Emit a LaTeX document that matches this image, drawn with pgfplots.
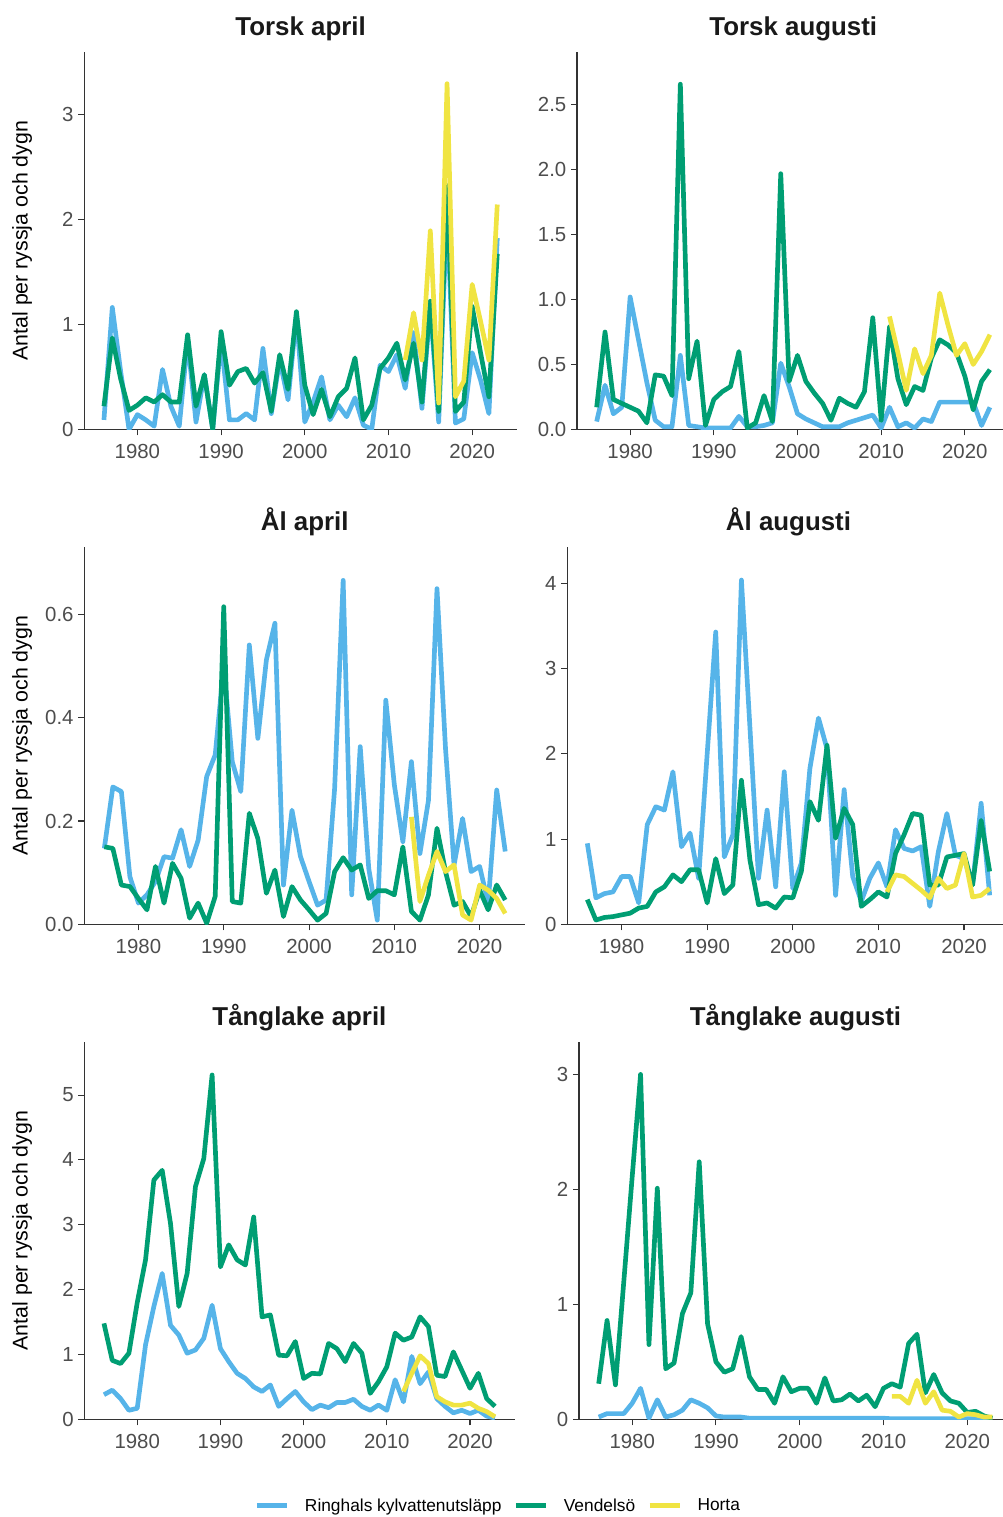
\documentclass[border=0pt]{standalone}
\usepackage{fontspec}
\setmainfont{Liberation Sans}
\usepackage{pgfplots}
\usepackage{pgfplotstable}
\pgfplotsset{compat=1.18}
\definecolor{cR}{HTML}{56B4E9}
\definecolor{cV}{HTML}{009E73}
\definecolor{cH}{HTML}{F0E442}
\definecolor{axc}{HTML}{333333}
\definecolor{tickc}{HTML}{4D4D4D}

\pgfplotstableread{
year R V H
1976 0.09 0.22 nan
1977 1.16 0.87 nan
1978 0.55 0.48 nan
1979 0.00 0.18 nan
1980 0.14 0.23 nan
1981 0.09 0.30 nan
1982 0.03 0.26 nan
1983 0.57 0.33 nan
1984 0.22 0.26 nan
1985 0.03 0.26 nan
1986 0.85 0.90 nan
1987 0.07 0.22 nan
1988 0.52 0.52 nan
1989 0.00 0.00 nan
1990 0.85 0.93 nan
1991 0.09 0.42 nan
1992 0.09 0.55 nan
1993 0.15 0.58 nan
1994 0.09 0.44 nan
1995 0.77 0.54 nan
1996 0.15 0.17 nan
1997 0.66 0.71 nan
1998 0.28 0.38 nan
1999 1.08 1.12 nan
2000 0.07 0.42 nan
2001 0.26 0.14 nan
2002 0.50 0.38 nan
2003 0.09 0.12 nan
2004 0.23 0.31 nan
2005 0.12 0.39 nan
2006 0.30 0.68 nan
2007 0.04 0.09 nan
2008 0.00 0.23 nan
2009 0.61 0.58 nan
2010 0.55 0.68 nan
2011 0.71 0.82 nan
2012 0.39 0.47 0.66
2013 0.92 0.82 1.11
2014 0.20 0.26 0.66
2015 1.17 1.22 1.89
2016 0.07 0.17 0.25
2017 2.10 2.32 3.29
2018 0.06 0.17 0.31
2019 0.10 0.26 0.46
2020 0.73 1.17 1.38
2021 0.47 0.73 1.03
2022 0.15 0.31 0.66
2023 1.82 1.67 2.14
}\TorskApril

\pgfplotstableread{
year R V H
1976 0.06 0.17 nan
1977 0.34 0.75 nan
1978 0.12 0.23 nan
1979 0.17 0.20 nan
1980 1.02 0.17 nan
1981 0.69 0.14 nan
1982 0.36 0.05 nan
1983 0.07 0.42 nan
1984 0.02 0.41 nan
1985 0.02 0.26 nan
1986 0.57 2.66 nan
1987 0.03 0.39 nan
1988 0.02 0.68 nan
1989 0.01 0.03 nan
1990 0.01 0.23 nan
1991 0.01 0.29 nan
1992 0.01 0.33 nan
1993 0.10 0.60 nan
1994 0.02 0.01 nan
1995 0.02 0.05 nan
1996 0.03 0.26 nan
1997 0.05 0.06 nan
1998 0.51 1.97 nan
1999 0.33 0.37 nan
2000 0.12 0.57 nan
2001 0.08 0.37 nan
2002 0.05 0.28 nan
2003 0.02 0.20 nan
2004 0.02 0.07 nan
2005 0.02 0.24 nan
2006 0.05 0.20 nan
2007 0.07 0.17 nan
2008 0.09 0.29 nan
2009 0.11 0.86 nan
2010 0.01 0.07 nan
2011 0.17 0.79 0.87
2012 0.02 0.39 0.59
2013 0.05 0.19 0.30
2014 0.01 0.33 0.62
2015 0.08 0.30 0.43
2016 0.06 0.55 0.57
2017 0.21 0.69 1.05
2018 0.21 0.65 0.80
2019 0.21 0.59 0.57
2020 0.21 0.41 0.66
2021 0.21 0.15 0.50
2022 0.03 0.37 0.60
2023 0.17 0.46 0.73
}\TorskAugusti

\pgfplotstableread{
year R V H
1976 0.147 0.150 nan
1977 0.266 0.147 nan
1978 0.257 0.076 nan
1979 0.092 0.073 nan
1980 0.041 0.050 nan
1981 0.057 0.028 nan
1982 0.083 0.112 nan
1983 0.131 0.041 nan
1984 0.128 0.118 nan
1985 0.183 0.089 nan
1986 0.112 0.012 nan
1987 0.163 0.041 nan
1988 0.286 0.002 nan
1989 0.328 0.054 nan
1990 0.500 0.615 nan
1991 0.315 0.044 nan
1992 0.257 0.041 nan
1993 0.541 0.215 nan
1994 0.360 0.166 nan
1995 0.512 0.060 nan
1996 0.583 0.105 nan
1997 0.076 0.015 nan
1998 0.221 0.073 nan
1999 0.131 0.047 nan
2000 0.083 0.028 nan
2001 0.037 0.008 nan
2002 0.047 0.021 nan
2003 0.263 0.102 nan
2004 0.666 0.129 nan
2005 0.057 0.105 nan
2006 0.344 0.115 nan
2007 0.108 0.050 nan
2008 0.008 0.065 nan
2009 0.434 0.065 nan
2010 0.270 0.057 nan
2011 0.160 0.150 nan
2012 0.315 0.025 0.208
2013 0.137 0.008 0.044
2014 0.240 0.057 0.095
2015 0.650 0.186 0.141
2016 0.340 0.102 0.102
2017 0.115 0.037 0.115
2018 0.205 0.044 0.018
2019 0.102 0.015 0.008
2020 0.112 0.066 0.076
2021 0.041 0.028 0.066
2022 0.260 0.076 0.050
2023 0.141 0.047 0.021
}\AlApril

\pgfplotstableread{
year R V H
1976 0.95 0.29 nan
1977 0.31 0.05 nan
1978 0.36 0.08 nan
1979 0.38 0.09 nan
1980 0.56 0.11 nan
1981 0.56 0.13 nan
1982 0.25 0.19 nan
1983 1.17 0.21 nan
1984 1.38 0.38 nan
1985 1.34 0.44 nan
1986 1.79 0.58 nan
1987 0.91 0.50 nan
1988 1.07 0.64 nan
1989 0.54 0.64 nan
1990 2.00 0.25 nan
1991 3.43 0.77 nan
1992 0.79 0.36 nan
1993 1.05 0.46 nan
1994 4.04 1.69 nan
1995 2.30 0.75 nan
1996 0.54 0.23 nan
1997 1.34 0.25 nan
1998 0.44 0.19 nan
1999 1.79 0.32 nan
2000 0.42 0.31 nan
2001 0.72 0.62 nan
2002 1.83 1.44 nan
2003 2.42 1.22 nan
2004 2.06 2.10 nan
2005 0.34 1.01 nan
2006 1.58 1.36 nan
2007 0.56 1.17 nan
2008 0.27 0.21 nan
2009 0.54 0.29 nan
2010 0.72 0.38 nan
2011 0.44 0.32 0.38
2012 1.11 0.83 0.58
2013 0.89 1.05 0.56
2014 0.86 1.30 0.48
2015 0.91 1.28 0.40
2016 0.21 0.46 0.31
2017 0.85 0.46 0.54
2018 1.30 0.79 0.42
2019 0.81 0.81 0.46
2020 0.77 0.83 0.83
2021 0.46 0.46 0.32
2022 1.42 1.22 0.34
2023 0.34 0.62 0.42
}\AlAugusti

\pgfplotstableread{
year R V H
1976 0.38 1.48 nan
1977 0.45 0.91 nan
1978 0.32 0.86 nan
1979 0.14 1.02 nan
1980 0.17 1.80 nan
1981 1.15 2.46 nan
1982 1.74 3.69 nan
1983 2.25 3.84 nan
1984 1.45 3.02 nan
1985 1.30 1.74 nan
1986 1.02 2.25 nan
1987 1.07 3.59 nan
1988 1.25 4.02 nan
1989 1.76 5.31 nan
1990 1.09 2.35 nan
1991 0.89 2.69 nan
1992 0.71 2.46 nan
1993 0.63 2.38 nan
1994 0.50 3.12 nan
1995 0.43 1.58 nan
1996 0.53 1.61 nan
1997 0.20 0.99 nan
1998 0.32 0.98 nan
1999 0.43 1.20 nan
2000 0.27 0.63 nan
2001 0.15 0.71 nan
2002 0.22 0.70 nan
2003 0.18 1.17 nan
2004 0.26 1.09 nan
2005 0.26 0.89 nan
2006 0.31 1.17 nan
2007 0.20 1.02 nan
2008 0.14 0.40 nan
2009 0.22 0.58 nan
2010 0.14 0.81 nan
2011 0.61 1.33 nan
2012 0.27 1.22 0.43
2013 0.97 1.27 0.71
2014 0.55 1.58 0.98
2015 0.73 1.43 0.86
2016 0.32 0.68 0.35
2017 0.20 0.66 0.27
2018 0.10 1.04 0.22
2019 0.14 0.76 0.22
2020 0.09 0.48 0.25
2021 0.14 0.71 0.17
2022 0.05 0.32 0.12
2023 0.02 0.20 0.04
}\TangApril

\pgfplotstableread{
year R V H
1976 0.02 0.31 nan
1977 0.05 0.86 nan
1978 0.05 0.30 nan
1979 0.05 1.20 nan
1980 0.14 2.11 nan
1981 0.27 3.00 nan
1982 0.01 0.65 nan
1983 0.17 2.01 nan
1984 0.02 0.44 nan
1985 0.04 0.49 nan
1986 0.08 0.92 nan
1987 0.17 1.10 nan
1988 0.14 2.24 nan
1989 0.10 0.83 nan
1990 0.03 0.50 nan
1991 0.02 0.41 nan
1992 0.02 0.44 nan
1993 0.02 0.72 nan
1994 0.01 0.37 nan
1995 0.01 0.26 nan
1996 0.01 0.26 nan
1997 0.01 0.14 nan
1998 0.01 0.37 nan
1999 0.01 0.24 nan
2000 0.01 0.27 nan
2001 0.01 0.27 nan
2002 0.01 0.14 nan
2003 0.01 0.36 nan
2004 0.01 0.16 nan
2005 0.01 0.17 nan
2006 0.01 0.22 nan
2007 0.01 0.16 nan
2008 0.01 0.21 nan
2009 0.01 0.11 nan
2010 0.01 0.27 nan
2011 0.005 0.31 0.20
2012 0.005 0.28 0.20
2013 0.005 0.66 0.14
2014 0.005 0.74 0.34
2015 0.005 0.23 0.14
2016 0.005 0.39 0.24
2017 0.005 0.23 0.08
2018 0.005 0.16 0.07
2019 0.005 0.14 0.02
2020 0.005 0.06 0.05
2021 0.005 0.07 0.04
2022 0.005 0.03 0.02
2023 0.005 0.01 0.02
}\TangAugusti

\pgfplotsset{
  panel/.style={
    scale only axis, height=283.1pt,
    xmin=1973.65, xmax=2025.35, ymin=0,
    axis x line*=bottom, axis y line*=left,
    axis line style={axc, line width=0.8pt},
    tick align=outside, major tick length=4.5pt,
    tick style={axc, line width=0.8pt},
    xtick={1980,1990,2000,2010,2020},
    x tick label style={/pgf/number format/1000 sep={}, yshift=-3pt},
    ticklabel style={font=\fontsize{15.3}{18}\selectfont, text=tickc},
    /pgf/number format/assume math mode=true,
    title style={font=\fontsize{19.4}{23}\selectfont\bfseries, at={(axis description cs:0.5,1)}, anchor=base, yshift=6pt, text=black!90},
    every axis plot/.append style={line width=3.5pt, line join=round, mark=none},
    anchor=south west,
  },
  onedec/.style={yticklabel style={/pgf/number format/.cd, fixed, fixed zerofill, precision=1}},
}

\newcommand{\threeplots}[1]{%
  \addplot[cR] table[x=year,y=R]{#1};
  \addplot[cV] table[x=year,y=V]{#1};
  \addplot[cH] table[x=year,y=H]{#1};
}

\begin{document}
\begin{tikzpicture}
\path[use as bounding box] (0,0) rectangle (752.25pt,-1137.75pt);

% Torsk april
\begin{axis}[panel, at={(63.2pt,-322.0pt)}, width=324.5pt, ymax=3.593,
  ytick={0,1,2,3}, title={Torsk april}]
\threeplots{\TorskApril}
\end{axis}

% Torsk augusti
\begin{axis}[panel, onedec, at={(432.75pt,-322.0pt)}, width=324.45pt, ymax=2.909,
  ytick={0,0.5,1,1.5,2,2.5}, title={Torsk augusti}]
\threeplots{\TorskAugusti}
\end{axis}

% Al april
\begin{axis}[panel, onedec, at={(63.2pt,-693.2pt)}, width=330.75pt, ymax=0.731,
  ytick={0,0.2,0.4,0.6}, title={Ål april}]
\threeplots{\AlApril}
\end{axis}

% Al augusti
\begin{axis}[panel, at={(425.4pt,-693.2pt)}, width=331.95pt, ymax=4.43,
  ytick={0,1,2,3,4}, title={Ål augusti}]
\threeplots{\AlAugusti}
\end{axis}

% Tanglake april
\begin{axis}[panel, at={(63.3pt,-1064.5pt)}, width=322.6pt, ymax=5.82,
  ytick={0,1,2,3,4,5}, title={Tånglake april},
  legend style={at={(axis description cs:0.97,-0.229)}, anchor=center,
    legend columns=3, draw=none, fill=none,
    font=\fontsize{13}{15}\selectfont,
    /tikz/every even column/.append style={column sep=2.5pt},
    nodes={inner xsep=6.5pt}},
  legend image code/.code={\draw[#1, line width=3.5pt] (0pt,0pt) -- (22.5pt,0pt); \path (27.75pt,0pt);}]
\threeplots{\TangApril}
\legend{Ringhals kylvattenutsläpp, Vendelsö, Horta}
\end{axis}

% Tanglake augusti
\begin{axis}[panel, at={(434.25pt,-1064.5pt)}, width=324.8pt, ymax=3.283,
  ytick={0,1,2,3}, title={Tånglake augusti}]
\threeplots{\TangAugusti}
\end{axis}

\foreach \yy in {-180.5,-551.6,-922.9}{
  \node[rotate=90, font=\fontsize{16}{19}\selectfont] at (16.5pt,\yy pt) {Antal per ryssja och dygn};
}
\end{tikzpicture}
\end{document}
